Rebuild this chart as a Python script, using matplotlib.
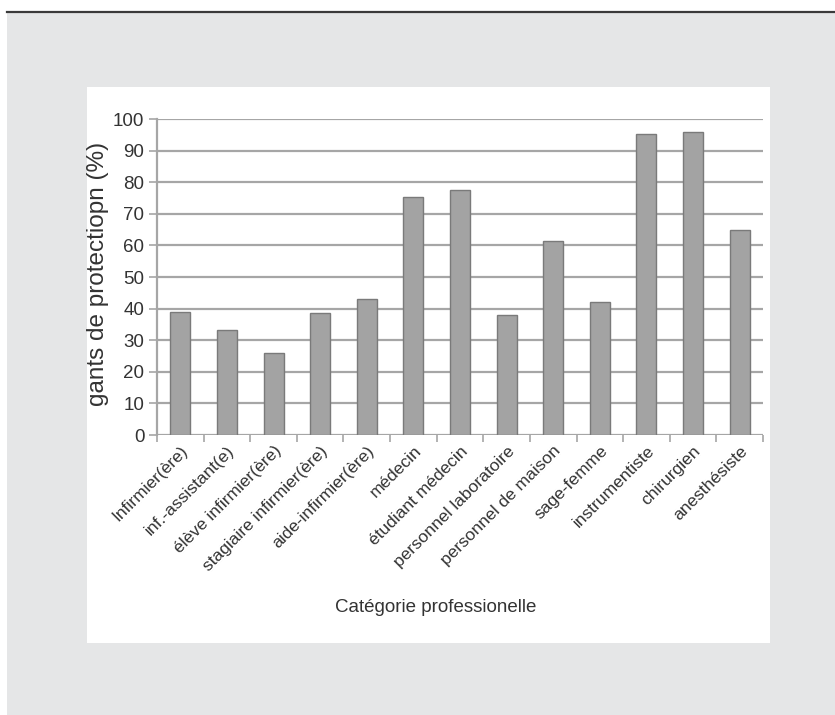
import matplotlib.pyplot as plt
import numpy as np
from matplotlib.patches import Rectangle
from matplotlib.lines import Line2D

categories = ['Infirmier(ère)', 'inf.-assistant(e)', 'élève infirmier(ère)',
              'stagiaire infirmier(ère)', 'aide-infirmier(ère)', 'médecin',
              'étudiant médecin', 'personnel laboratoire', 'personnel de maison',
              'sage-femme', 'instrumentiste', 'chirurgien', 'anesthésiste']
values = [38.8, 33.3, 26.1, 38.5, 42.9, 75.4, 77.5, 37.9, 61.4, 42.2, 95.1, 95.8, 64.9]
yticks = list(range(0, 101, 10))

plt.rcParams['font.family'] = ['Liberation Sans', 'DejaVu Sans']

fig = plt.figure(figsize=(8.35, 7.15), dpi=100)
fig.patch.set_facecolor('white')

# gray panel, dark top rule and white card
fig.add_artist(Rectangle((7 / 835, 0), 1, 1 - 13 / 715, transform=fig.transFigure,
                         facecolor='#e5e6e7', edgecolor='none', zorder=0))
fig.add_artist(Line2D([7 / 835, 1], [1 - 12 / 715, 1 - 12 / 715], transform=fig.transFigure,
                      color='#3a3a3a', linewidth=1.6, zorder=1))
fig.add_artist(Rectangle((87 / 835, 1 - 643 / 715), (770 - 87) / 835, (643 - 87) / 715,
                         transform=fig.transFigure, facecolor='white', edgecolor='none', zorder=0))

ax = fig.add_axes([157 / 835, 1 - 435 / 715, (763 - 157) / 835, (435 - 119) / 715])
ax.set_facecolor('none')

x = np.arange(len(categories))
ax.bar(x, values, width=0.43, color='#a3a3a3', edgecolor='#7a7a7a', linewidth=1.0, zorder=3)

ax.set_xlim(-0.5, len(categories) - 0.5)
ax.set_ylim(0, 100)
ax.set_yticks(yticks)
ax.yaxis.grid(True, color='#a6a6a6', linewidth=1.6, zorder=0)
ax.set_axisbelow(True)

for s in ['top', 'right', 'bottom']:
    ax.spines[s].set_visible(False)
ax.spines['left'].set_color('#a6a6a6')
ax.spines['left'].set_linewidth(1.6)

ax.set_xticks(x)
ax.set_xticklabels(categories, rotation=45, ha='right', rotation_mode='anchor',
                   fontsize=12.5, color='#333333')
ax.set_xticks(np.arange(len(categories) + 1) - 0.5, minor=True)
ax.tick_params(axis='x', which='major', length=0, pad=6)
ax.tick_params(axis='x', which='minor', length=5, color='#a6a6a6', width=1.2)
ax.tick_params(axis='y', length=6, color='#a6a6a6', width=1.2, labelsize=13.5,
               labelcolor='#333333', pad=3)

ax.set_ylabel('gants de protectiopn (%)', fontsize=17.5, color='#333333')
ax.yaxis.set_label_coords(-0.079, 0.51)
ax.set_xlabel('Catégorie professionelle', fontsize=13.5, color='#333333')
ax.xaxis.set_label_coords(0.46, -0.52)

fig.savefig('out.png', dpi=100)
